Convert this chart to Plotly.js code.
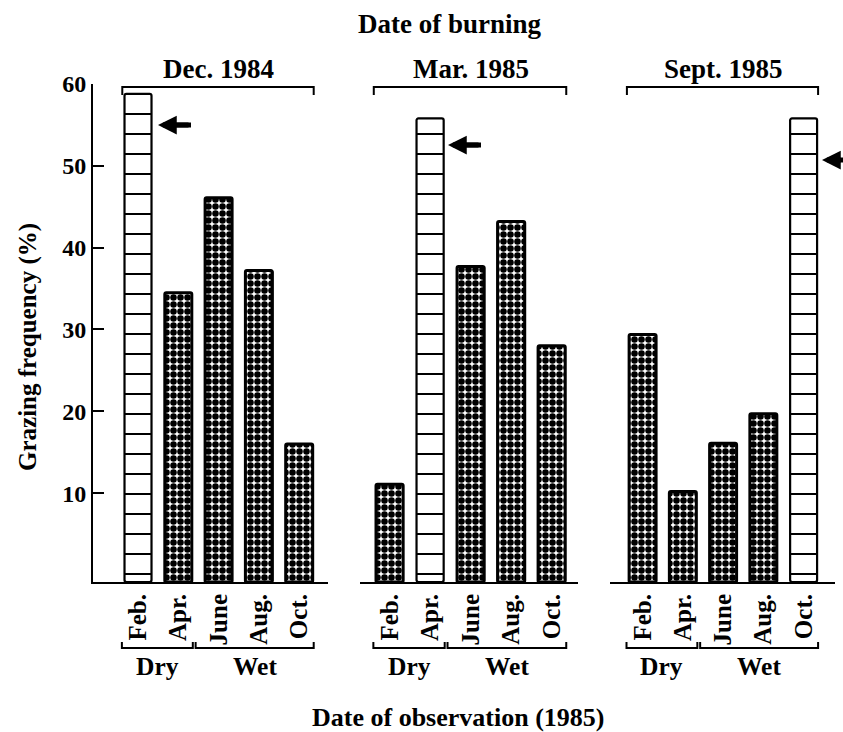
<!DOCTYPE html>
<html>
<head>
<meta charset="utf-8">
<script src="https://cdn.plot.ly/plotly-3.0.1.min.js"></script>
<style>html,body{margin:0;padding:0;background:#fff;}#chart{width:843px;height:732px;}</style>
</head>
<body>
<div id="chart"></div>
<script>
// ---- data ----
const months = ['Feb.', 'Apr.', 'June', 'Aug.', 'Oct.'];
const burnDates = ['Dec. 1984', 'Mar. 1985', 'Sept. 1985'];
const dec1984 = [58.8, 34.5, 46.1, 37.2, 16.0];
const mar1985 = [11.1, 55.8, 37.7, 43.2, 28.0];
const sep1985 = [29.4, 10.2, 16.1, 19.7, 55.8];
const firstObsAfterBurn = [0, 1, 4];   // index of the hatched bar in each panel
const seasons = ['Dry', 'Wet'];
const yTicks = [10, 20, 30, 40, 50, 60];

// ---- layout helpers ----
const W = 843, H = 732;
const px = x => x / W;
const py = y => (H - y) / H;
const FONT = 'Liberation Serif, Times New Roman, serif';
const BASE = -0.86;   // baseline sits slightly below zero in the original
const series = [dec1984, mar1985, sep1985];
const xaxes = ['x', 'x2', 'x3'];
const domains = [[93, 328], [360, 578], [610, 835]];
const ranges = [[-1.117, 4.715], [-0.73, 4.65], [-0.81, 4.78]];

const traces = series.map((vals, p) => {
  const hatched = vals.map((_, i) => i === firstObsAfterBurn[p]);
  return {
    type: 'bar',
    x: vals.map((_, i) => i),
    y: vals.map(v => v - BASE),
    base: BASE,
    xaxis: xaxes[p], yaxis: 'y',
    width: 0.67,
    marker: {
      color: 'white',
      cornerradius: 2,
      line: {color: 'black', width: hatched.map(h => h ? 2.2 : 3)},
      pattern: {
        shape: hatched.map(h => h ? '-' : '.'),
        size: hatched.map(h => h ? 20 : 7),
        solidity: hatched.map(h => h ? 0.1 : 0.68),
        fgcolor: 'black', bgcolor: 'white', fillmode: 'replace'
      }
    },
    hoverinfo: 'skip', showlegend: false
  };
});

const layout = {
  width: W, height: H,
  margin: {l: 0, r: 0, t: 0, b: 0},
  paper_bgcolor: 'white', plot_bgcolor: 'white',
  font: {family: FONT, size: 25, color: 'black', weight: 'bold'},
  showlegend: false,
  bargap: 0,
  yaxis: {
    domain: [py(582), py(84)], range: [BASE, 60], anchor: 'x',
    tickvals: yTicks, ticks: 'inside', ticklen: 11, tickwidth: 2, tickcolor: 'black',
    showline: true, linewidth: 2, linecolor: 'black', showgrid: false, zeroline: false,
    tickfont: {family: FONT, size: 24, weight: 'bold'}
  },
  shapes: [], annotations: []
};
xaxes.forEach((ax, p) => {
  const key = p === 0 ? 'xaxis' : 'xaxis' + (p + 1);
  layout[key] = {
    domain: [px(domains[p][0]), px(domains[p][1])], range: ranges[p], anchor: 'y',
    tickvals: [0, 1, 2, 3, 4], ticktext: months, tickangle: -90, ticks: '',
    showline: true, linewidth: 2, linecolor: 'black', showgrid: false, zeroline: false,
    tickfont: {family: FONT, size: 25, weight: 'bold'}
  };
  // top bracket + burn-date label
  const x0 = -0.39, x1 = 4.36;
  layout.shapes.push({type: 'path', xref: ax, yref: 'paper',
    path: `M ${x0},${py(95)} L ${x0},${py(87)} L ${x1},${py(87)} L ${x1},${py(95)}`,
    line: {color: 'black', width: 2}});
  layout.annotations.push({xref: ax, yref: 'paper', x: 2, y: py(69), text: burnDates[p],
    showarrow: false, xanchor: 'center', yanchor: 'middle',
    font: {family: FONT, size: 27, weight: 'bold'}});
  // bottom season brackets
  const spans = [[-0.4, 1.36], [1.43, 4.36]];
  spans.forEach((s, k) => {
    layout.shapes.push({type: 'path', xref: ax, yref: 'paper',
      path: `M ${s[0]},${py(642)} L ${s[0]},${py(648)} L ${s[1]},${py(648)} L ${s[1]},${py(642)}`,
      line: {color: 'black', width: 2}});
    layout.annotations.push({xref: ax, yref: 'paper', x: (s[0] + s[1]) / 2, y: py(666),
      text: seasons[k], showarrow: false, xanchor: 'center', yanchor: 'middle',
      font: {family: FONT, size: 25.5, weight: 'bold'}});
  });
});
// arrows (tip x, tip y, tail offset)
const arrows = [[158, 125, 32], [448, 145, 32], [822, 160, 20]];
arrows.forEach(a => {
  layout.annotations.push({xref: 'paper', yref: 'paper', x: px(a[0]), y: py(a[1]),
    ax: a[2], ay: 0, text: '', showarrow: true, arrowhead: 2, arrowsize: 0.75,
    arrowwidth: 5, arrowcolor: 'black'});
  // shaft drawn explicitly so it shows even when the tail runs off the page
  layout.shapes.push({type: 'line', xref: 'paper', yref: 'paper',
    x0: px(a[0] + 9), x1: px(Math.min(a[0] + a[2] + 1, W)), y0: py(a[1]), y1: py(a[1]),
    line: {color: 'black', width: 5}});
});
// titles
layout.annotations.push({xref: 'paper', yref: 'paper', x: px(450), y: py(24),
  text: 'Date of burning', showarrow: false, xanchor: 'center', yanchor: 'middle',
  font: {family: FONT, size: 27, weight: 'bold'}});
layout.annotations.push({xref: 'paper', yref: 'paper', x: px(458), y: py(717),
  text: 'Date of observation (1985)', showarrow: false, xanchor: 'center', yanchor: 'middle',
  font: {family: FONT, size: 26, weight: 'bold'}});
layout.annotations.push({xref: 'paper', yref: 'paper', x: px(28), y: py(347),
  text: 'Grazing frequency (%)', showarrow: false, textangle: -90,
  xanchor: 'center', yanchor: 'middle',
  font: {family: FONT, size: 25, weight: 'bold'}});

Plotly.newPlot('chart', traces, layout, {staticPlot: true, displayModeBar: false});
</script>
</body>
</html>
